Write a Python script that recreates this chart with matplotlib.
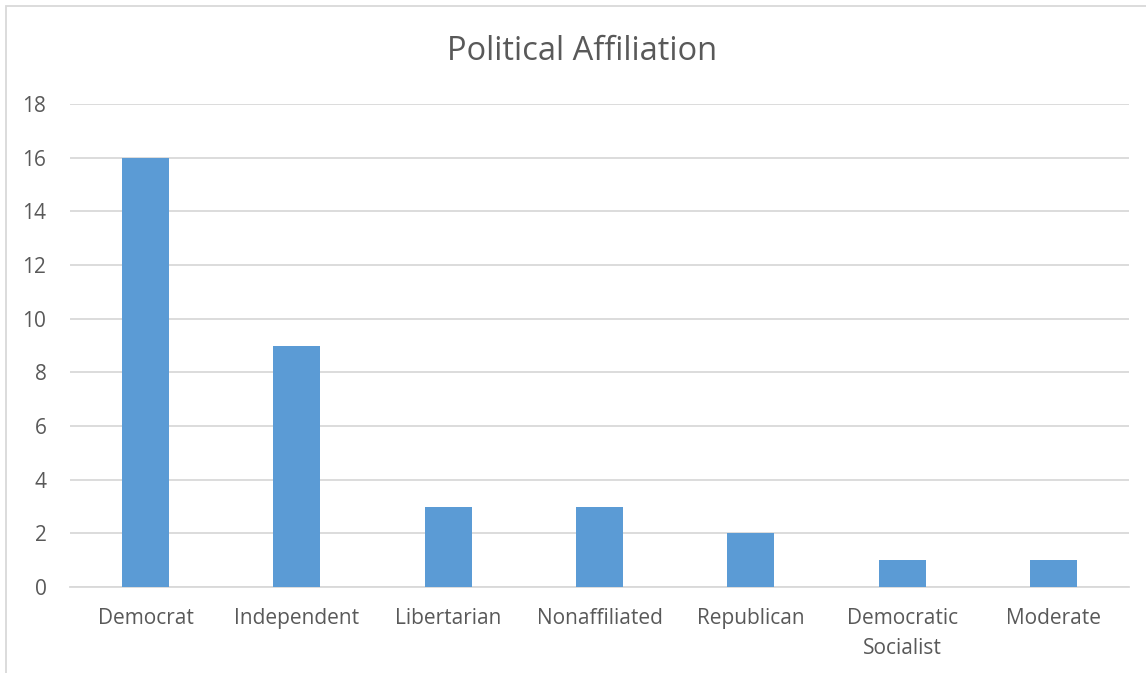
import matplotlib
matplotlib.use("Agg")
import matplotlib.pyplot as plt
from matplotlib.patches import Rectangle

categories = ["Democrat", "Independent", "Libertarian", "Nonaffiliated",
              "Republican", "Democratic\nSocialist", "Moderate"]
counts = [16, 9, 3, 3, 2, 1, 1]
y_ticks = [0, 2, 4, 6, 8, 10, 12, 14, 16, 18]

TEXT = "#595959"
GRID = "#D9D9D9"
BAR = "#5B9BD5"

plt.rcParams["font.family"] = ["Open Sans", "DejaVu Sans"]

W, H = 1146, 673
fig = plt.figure(figsize=(W / 100, H / 100), dpi=100)

# light chart-area frame (left and top edges visible)
fig.add_artist(Rectangle((6 / W, -0.1), 1.2, 1 - 6 / H + 0.1,
                         transform=fig.transFigure, fill=False,
                         edgecolor=GRID, linewidth=1.3))

ax = fig.add_axes([70 / W, 1 - 587 / H, (1129 - 70) / W, (587 - 104) / H])
x = range(len(categories))
ax.bar(x, counts, width=0.31, color=BAR, zorder=3)

ax.set_xlim(-0.5, len(categories) - 0.5)
ax.set_ylim(0, 18)
ax.set_yticks(y_ticks)
ax.set_xticks(list(x))
ax.set_xticklabels(categories)
ax.yaxis.grid(True, color=GRID, linewidth=1.3, zorder=0)
ax.set_axisbelow(True)
for side in ("top", "right", "left"):
    ax.spines[side].set_visible(False)
ax.spines["bottom"].set_color(GRID)
ax.spines["bottom"].set_linewidth(1.3)
ax.tick_params(axis="both", length=0, colors=TEXT, labelsize=15)
ax.tick_params(axis="x", pad=15)
ax.tick_params(axis="y", pad=17)
for lbl in ax.get_xticklabels():
    lbl.set_linespacing(1.6)

fig.text(582 / W, 1 - 51 / H, "Political Affiliation", ha="center",
         va="center", fontsize=23.5, color=TEXT)

fig.savefig("out.png", dpi=100, facecolor="white")
